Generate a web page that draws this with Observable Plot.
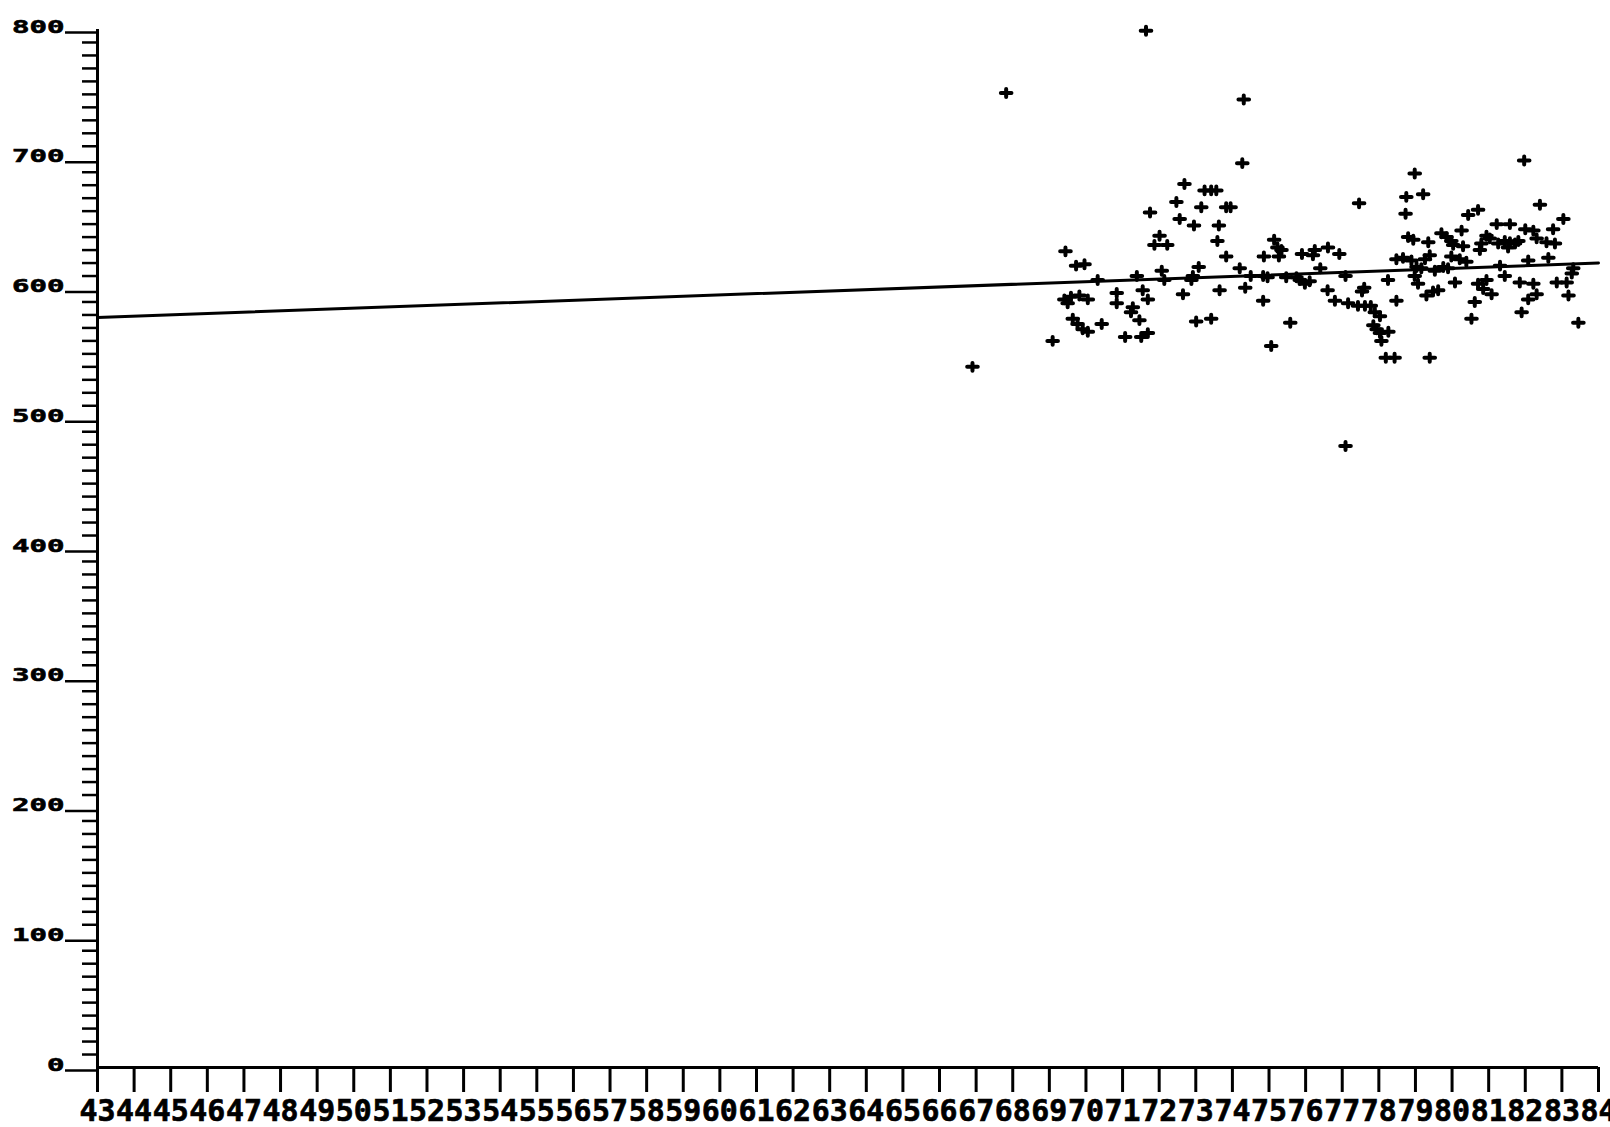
<!DOCTYPE html>
<html>
<head>
<meta charset="utf-8">
<script src="https://cdn.jsdelivr.net/npm/d3@7"></script>
<script src="https://cdn.jsdelivr.net/npm/@observablehq/plot@0.6"></script>
<style>
  html, body { margin: 0; padding: 0; background: #fff; }
  svg { display: block; }
</style>
</head>
<body>
<div id="chart"></div>
<script>
// x tick labels (years, two-digit)
const xTicks = [43,44,45,46,47,48,49,50,51,52,53,54,55,56,57,58,59,60,61,62,63,
                64,65,66,67,68,69,70,71,72,73,74,75,76,77,78,79,80,81,82,83,84];
// y tick labels
const yMajor = [0,100,200,300,400,500,600,700,800];

// observations (x = year, y = value)
const pointX = [
  66.90,67.82,69.09,69.41,69.44,69.50,69.59,69.64,69.73,69.77,69.82,69.91,69.96,70.05,70.05,
  70.32,70.43,70.84,70.84,71.07,71.23,71.28,71.39,71.46,71.51,71.55,71.64,71.69,71.69,71.75,
  71.87,72.01,72.07,72.14,72.22,
  72.47,72.56,72.65,72.69,72.88,72.92,72.95,73.01,73.42,73.08,73.15,73.24,73.42,73.56,73.59,
  73.63,73.65,73.83,73.95,73.83,74.20,74.27,74.31,74.35,74.50,74.84,74.96,74.84,74.86,75.06,
  75.14,75.23,75.34,75.27,75.47,75.58,75.75,75.84,75.98,76.11,75.90,76.20,76.25,76.40,76.60,
  76.61,76.80,76.92,77.09,77.09,77.16,77.43,77.62,77.78,77.46,77.54,77.60,77.85,77.94,78.03,
  78.07,77.89,78.03,78.19,78.26,
  78.25,78.48,78.66,78.89,78.48,78.43,78.73,78.75,79.21,78.80,78.94,78.98,78.98,79.07,79.03,
  79.16,79.26,79.39,79.30,79.48,79.62,79.35,79.39,79.53,79.76,79.89,79.71,79.85,79.98,79.98,
  80.21,80.39,80.03,80.30,80.08,80.26,80.44,80.71,80.53,80.62,80.71,80.94,80.85,80.76,80.80,
  80.94,81.03,81.08,81.22,81.58,81.26,81.44,81.58,81.72,81.53,81.81,81.31,81.44,81.85,82.22,
  81.90,81.97,82.00,82.22,82.08,82.63,82.08,82.31,82.31,82.58,82.81,82.40,82.76,82.86,83.13,
  83.04,83.18,83.27,83.31,83.45
];
const pointY = [
  540,751,560,592,629,589,594,577,618,573,595,569,619,592,567,
  607,573,597,589,563,582,586,610,576,563,599,799,592,566,659,
  634,641,614,607,634,
  667,654,596,681,607,610,649,575,577,617,663,676,676,676,637,
  649,599,663,663,625,616,697,746,601,610,610,609,591,625,556,
  638,632,630,625,609,574,609,607,604,606,627,626,630,616,599,
  632,591,627,610,479,589,587,587,587,666,598,601,572,569,566,
  560,582,579,547,567,
  607,623,624,622,591,547,658,671,673,640,638,689,610,604,617,
  616,623,626,595,598,599,636,547,614,617,616,643,640,637,625,
  623,621,634,633,605,645,657,661,577,590,604,607,600,630,635,
  641,639,596,650,650,635,637,636,635,632,637,618,610,605,604,
  582,699,646,645,622,624,592,596,639,636,635,665,646,605,605,
  654,595,612,616,574
];

// fitted trend line end points
const trendX = [43, 84];
const trendY = [578, 620];

const points = pointX.map((x, i) => ({x, y: pointY[i]}));
const trend = trendX.map((x, i) => ({x, y: trendY[i]}));
const yMinor = d3.range(0, 801, 10).filter(v => v % 100 !== 0);

// plotter-style plus: slightly wider than tall
const plotterPlus = {
  draw(ctx, size) {
    const r = Math.sqrt(size / Math.PI);
    ctx.moveTo(-r, 0); ctx.lineTo(r, 0);
    ctx.moveTo(0, -r * 0.75); ctx.lineTo(0, r * 0.75);
  }
};

const chart = Plot.plot({
  width: 1610,
  height: 1127,
  marginLeft: 97,
  marginRight: 12,
  marginTop: 29,
  marginBottom: 60,
  x: {domain: [43, 84]},
  y: {domain: [0, 800]},
  style: {background: "#fff", color: "#000", fontFamily: "'DejaVu Sans Mono', monospace", fontWeight: "bold"},
  marks: [
    Plot.axisY(yMinor, {tickSize: 15, strokeWidth: 2.5, tickFormat: () => "", label: null}),
    Plot.axisY(yMajor, {tickSize: 32, tickPadding: 1, fontSize: 18.5, lineAnchor: "bottom", dy: 3,
                        strokeWidth: 2.5, tickFormat: d => String(d), label: null}),
    Plot.axisX(xTicks, {tickSize: 25, tickPadding: 7, fontSize: 30, strokeWidth: 3,
                        tickFormat: d => String(d), label: null}),
    Plot.ruleX([43], {y1: 0, y2: 800, strokeWidth: 3}),
    Plot.ruleY([0], {x1: 43, x2: 84, strokeWidth: 3}),
    Plot.line(trend, {x: "x", y: "y", strokeWidth: 3}),
    Plot.dot(points, {x: "x", y: "y", symbol: plotterPlus, r: 5.3, fill: "none", stroke: "#000",
                      strokeWidth: 4, strokeLinecap: "round"})
  ]
});

d3.select(chart).selectAll('g[aria-label="x-axis tick label"] text')
  .attr("textLength", function() { return this.textContent.length * 18; })
  .attr("lengthAdjust", "spacingAndGlyphs")
  .attr("stroke", "#000").attr("stroke-width", 0.7);
d3.select(chart).selectAll('g[aria-label="y-axis tick label"] text')
  .attr("textLength", function() { return this.textContent.length ? this.textContent.length * 17.5 : null; })
  .attr("lengthAdjust", "spacingAndGlyphs")
  .attr("stroke", "#000").attr("stroke-width", 0.6);

document.getElementById("chart").appendChild(chart);
</script>
</body>
</html>
